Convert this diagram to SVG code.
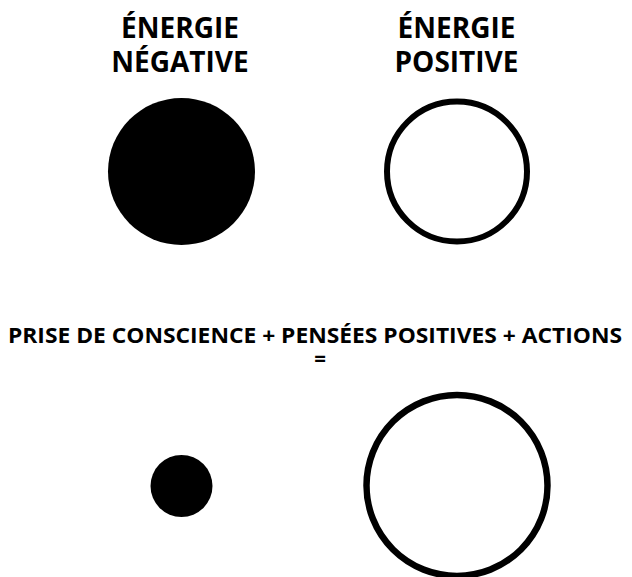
<svg xmlns="http://www.w3.org/2000/svg" width="632" height="577" viewBox="0 0 632 577">
<style>
.t{font-family:"Open Sans","Liberation Sans",sans-serif;font-weight:700;fill:#000;text-anchor:middle}
.h{font-size:28px}
.m{font-size:20.5px}
.f{fill:#000}
.o{fill:#fff;stroke:#000}
</style>
<rect width="632" height="577" fill="#fff"/>
<g id="label-negative"><text class="t h" x="180" y="38">ÉNERGIE</text><text class="t h" x="180" y="72">NÉGATIVE</text></g>
<g id="label-positive"><text class="t h" x="456.5" y="38">ÉNERGIE</text><text class="t h" x="456.5" y="72">POSITIVE</text></g>
<g id="circle-negative"><circle class="f" cx="181.5" cy="171.5" r="73.5"/></g>
<g id="circle-positive"><circle class="o" cx="457" cy="171.5" r="70" stroke-width="6"/></g>
<g id="formula"><text class="t m" x="315" y="343" textLength="614" lengthAdjust="spacingAndGlyphs">PRISE DE CONSCIENCE + PENSÉES POSITIVES + ACTIONS</text><text class="t m" x="320" y="366">=</text></g>
<g id="circle-negative-small"><circle class="f" cx="181.5" cy="486" r="31"/></g>
<g id="circle-positive-large"><circle class="o" cx="457" cy="485.5" r="90.5" stroke-width="6.5"/></g>
<g id="connectors"/>
</svg>
